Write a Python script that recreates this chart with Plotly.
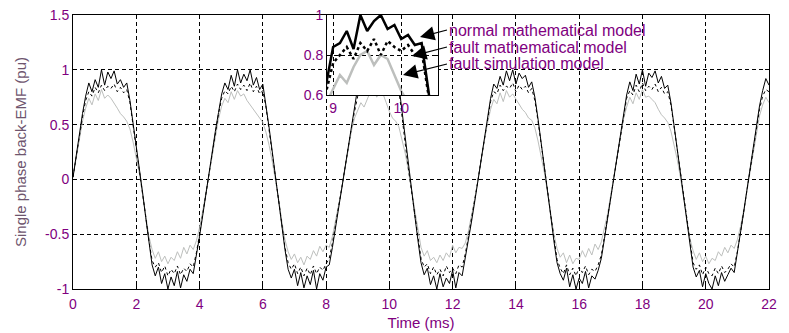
import plotly.graph_objects as go

# ---------------- data ----------------
time_step_ms = 0.1
n_samples = 221
time_ms = [round(i * time_step_ms, 1) for i in range(n_samples)]

normal_math = [
    0.02, 0.22, 0.41, 0.60, 0.76, 0.88, 0.80, 0.91, 0.84, 1.00, 0.86, 0.98, 0.92, 0.99, 0.87, 0.91, 0.84, 0.88,
    0.72, 0.52, 0.31, 0.10, -0.12, -0.35, -0.58, -0.78, -0.88, -0.80, -0.95, -0.86, -1.00, -0.89, -0.97, -0.84,
    -0.99, -0.87, -0.93, -0.82, -0.86, -0.70, -0.52, -0.33, -0.13,
    0.05, 0.25, 0.44, 0.61, 0.78, 0.88, 0.82, 0.95, 0.85, 1.00, 0.88, 0.96, 0.90, 1.00, 0.86, 0.93, 0.82, 0.87,
    0.68, 0.47, 0.25, 0.02, -0.20, -0.42, -0.64, -0.82, -0.90, -0.82, -0.97, -0.85, -0.99, -0.88, -0.96, -0.83,
    -1.00, -0.86, -0.92, -0.80, -0.78, -0.62, -0.44, -0.25,
    -0.08, 0.12, 0.32, 0.50, 0.66, 0.84, 0.86, 0.92, 0.83, 1.00, 0.92, 0.97, 1.00, 0.93, 0.95, 0.88, 0.90, 0.85,
    0.86, 0.62, 0.35, 0.12, -0.08, -0.32, -0.55, -0.76, -0.87, -0.81, -0.96, -0.88, -1.00, -0.86, -0.98, -0.90,
    -0.95, -0.83, -0.99, -0.85, -0.88, -0.72, -0.55, -0.38, -0.20,
    -0.01, 0.19, 0.38, 0.57, 0.74, 0.87, 0.83, 0.94, 0.86, 0.99, 0.90, 1.00, 0.87, 0.97, 0.92, 0.95, 0.84, 0.89,
    0.75, 0.55, 0.34, 0.12, -0.10, -0.33, -0.56, -0.76, -0.86, -0.92, -0.81, -0.98, -0.87, -1.00, -0.90, -0.95,
    -0.84, -0.99, -0.88, -0.91, -0.83, -0.72, -0.54, -0.35, -0.16,
    0.04, 0.24, 0.43, 0.62, 0.77, 0.89, 0.81, 0.96, 0.87, 1.00, 0.85, 0.97, 0.93, 0.99, 0.88, 0.94, 0.83, 0.86,
    0.70, 0.49, 0.28, 0.06, -0.16, -0.39, -0.61, -0.80, -0.89, -0.83, -0.98, -0.86, -0.95, -1.00, -0.88, -0.97,
    -0.85, -0.93, -0.87, -0.81, -0.85, -0.68, -0.49, -0.30, -0.10,
    0.10, 0.30, 0.49, 0.67, 0.81, 0.92, 0.86,
]

fault_math = [
    0.02, 0.21, 0.39, 0.57, 0.72, 0.80, 0.76, 0.84, 0.79, 0.86, 0.81, 0.85, 0.83, 0.87, 0.80, 0.84, 0.79, 0.82,
    0.70, 0.50, 0.30, 0.09, -0.12, -0.34, -0.56, -0.74, -0.80, -0.76, -0.85, -0.79, -0.88, -0.82, -0.86, -0.79,
    -0.87, -0.81, -0.84, -0.77, -0.80, -0.67, -0.50, -0.31, -0.12,
    0.05, 0.24, 0.43, 0.60, 0.74, 0.81, 0.78, 0.85, 0.80, 0.87, 0.82, 0.86, 0.81, 0.88, 0.80, 0.85, 0.78, 0.81,
    0.66, 0.46, 0.25, 0.02, -0.19, -0.41, -0.62, -0.76, -0.82, -0.77, -0.86, -0.80, -0.88, -0.81, -0.87, -0.79,
    -0.86, -0.80, -0.83, -0.77, -0.72, -0.58, -0.42, -0.24,
    -0.07, 0.11, 0.30, 0.47, 0.62, 0.76, 0.80, 0.84, 0.78, 0.86, 0.82, 0.88, 0.80, 0.87, 0.84, 0.82, 0.85, 0.80,
    0.82, 0.60, 0.33, 0.10, -0.10, -0.32, -0.54, -0.72, -0.80, -0.77, -0.86, -0.80, -0.87, -0.82, -0.88, -0.79,
    -0.85, -0.81, -0.86, -0.78, -0.80, -0.68, -0.52, -0.36, -0.19,
    -0.01, 0.18, 0.37, 0.55, 0.71, 0.80, 0.78, 0.86, 0.81, 0.85, 0.83, 0.88, 0.80, 0.86, 0.82, 0.85, 0.79, 0.83,
    0.72, 0.53, 0.33, 0.11, -0.10, -0.32, -0.54, -0.73, -0.81, -0.86, -0.78, -0.87, -0.81, -0.88, -0.80, -0.85,
    -0.79, -0.87, -0.82, -0.84, -0.78, -0.69, -0.52, -0.34, -0.15,
    0.04, 0.23, 0.42, 0.60, 0.74, 0.81, 0.77, 0.86, 0.80, 0.88, 0.81, 0.85, 0.82, 0.87, 0.80, 0.84, 0.78, 0.80,
    0.68, 0.48, 0.27, 0.05, -0.15, -0.38, -0.59, -0.76, -0.82, -0.78, -0.87, -0.80, -0.86, -0.88, -0.81, -0.86,
    -0.79, -0.85, -0.82, -0.77, -0.80, -0.66, -0.48, -0.29, -0.10,
    0.09, 0.29, 0.47, 0.64, 0.76, 0.82, 0.80,
]

fault_sim = [
    0.02, 0.20, 0.37, 0.53, 0.65, 0.74, 0.68, 0.78, 0.72, 0.82, 0.74, 0.77, 0.74, 0.70, 0.65, 0.60, 0.57, 0.53,
    0.46, 0.34, 0.20, 0.05, -0.14, -0.34, -0.52, -0.64, -0.72, -0.66, -0.75, -0.70, -0.77, -0.71, -0.74, -0.66,
    -0.72, -0.62, -0.68, -0.60, -0.64, -0.56, -0.44, -0.29, -0.12,
    0.05, 0.23, 0.40, 0.55, 0.67, 0.74, 0.70, 0.80, 0.73, 0.81, 0.76, 0.78, 0.72, 0.68, 0.63, 0.60, 0.55, 0.52,
    0.43, 0.31, 0.16, 0.00, -0.18, -0.38, -0.55, -0.66, -0.73, -0.68, -0.76, -0.71, -0.78, -0.70, -0.73, -0.65,
    -0.70, -0.61, -0.66, -0.60, -0.62, -0.52, -0.38, -0.22,
    -0.08, 0.10, 0.28, 0.44, 0.56, 0.63, 0.70, 0.66, 0.74, 0.80, 0.82, 0.75, 0.80, 0.78, 0.70, 0.62, 0.56, 0.53,
    0.48, 0.37, 0.24, 0.08, -0.10, -0.30, -0.48, -0.62, -0.70, -0.65, -0.74, -0.71, -0.76, -0.69, -0.74, -0.67,
    -0.71, -0.60, -0.67, -0.62, -0.63, -0.58, -0.47, -0.33, -0.18,
    -0.01, 0.18, 0.35, 0.51, 0.64, 0.73, 0.69, 0.79, 0.71, 0.81, 0.75, 0.78, 0.73, 0.69, 0.64, 0.61, 0.56, 0.54,
    0.47, 0.35, 0.21, 0.06, -0.12, -0.32, -0.50, -0.63, -0.71, -0.67, -0.76, -0.69, -0.77, -0.72, -0.73, -0.65,
    -0.71, -0.63, -0.69, -0.59, -0.64, -0.57, -0.45, -0.31, -0.14,
    0.04, 0.22, 0.39, 0.55, 0.66, 0.75, 0.69, 0.79, 0.73, 0.82, 0.75, 0.76, 0.73, 0.70, 0.64, 0.59, 0.56, 0.52,
    0.44, 0.32, 0.18, 0.02, -0.16, -0.36, -0.54, -0.65, -0.73, -0.67, -0.75, -0.70, -0.77, -0.72, -0.74, -0.66,
    -0.70, -0.62, -0.67, -0.60, -0.63, -0.55, -0.43, -0.28, -0.10,
    0.08, 0.26, 0.43, 0.58, 0.68, 0.75, 0.70,
]

x_tick_vals = [0, 2, 4, 6, 8, 10, 12, 14, 16, 18, 20, 22]
x_tick_text = ["0", "2", "4", "6", "8", "10", "12", "14", "16", "18", "20", "22"]
y_tick_vals = [-1, -0.5, 0, 0.5, 1, 1.5]
y_tick_text = ["-1", "-0.5", "0", "0.5", "1", "1.5"]
inset_x_tick_vals = [9, 10]
inset_x_tick_text = ["9", "10"]
inset_y_tick_vals = [0.6, 0.8, 1.0]
inset_y_tick_text = ["0.6", "0.8", "1"]

legend_labels = ["normal mathematical model", "fault mathematical model", "fault simulation model"]

# ---------------- figure ----------------
FONT = "Liberation Sans, Arial, sans-serif"
PURPLE = "#800080"
GRAY = "#bdbfbd"

fig = go.Figure()

series = [
    (fault_sim, dict(color=GRAY, dash="solid"), legend_labels[2]),
    (fault_math, dict(color="black", dash="dot"), legend_labels[1]),
    (normal_math, dict(color="black", dash="solid"), legend_labels[0]),
]

for ys, style, name in series:
    fig.add_trace(go.Scatter(x=time_ms, y=ys, mode="lines", name=name,
                             line=dict(width=1, **style), xaxis="x", yaxis="y",
                             showlegend=False, hoverinfo="skip"))
for ys, style, name in series:
    fig.add_trace(go.Scatter(x=time_ms, y=ys, mode="lines", name=name,
                             line=dict(width=2.5, **style), xaxis="x2", yaxis="y2",
                             showlegend=False, hoverinfo="skip"))

axis_common = dict(
    showline=True, linecolor="black", linewidth=1, mirror="ticks",
    ticks="inside", ticklen=4, tickcolor="black",
    showgrid=True, gridcolor="black", griddash="4px,3px", gridwidth=1,
    zeroline=False, automargin=False,
    tickfont=dict(family=FONT, size=14, color=PURPLE),
)

W, H = 789, 333
ml, mr, mt, mb = 73, 20, 15, 44
pw, ph = W - ml - mr, H - mt - mb


def px_x(p):
    return (p - ml) / pw


def px_y(p):
    return (H - mb - p) / ph


fig.update_layout(
    width=W, height=H,
    margin=dict(l=ml, r=mr, t=mt, b=mb),
    paper_bgcolor="white", plot_bgcolor="white",
    font=dict(family=FONT, size=14, color=PURPLE),
    xaxis=dict(range=[0, 22], tickvals=x_tick_vals, ticktext=x_tick_text,
               domain=[0, 1], anchor="y", ticklabelstandoff=2,
               title=dict(text="Time (ms)", font=dict(family=FONT, size=15, color=PURPLE), standoff=6),
               **axis_common),
    yaxis=dict(range=[-1, 1.5], tickvals=y_tick_vals, ticktext=y_tick_text,
               domain=[0, 1], anchor="x",
               title=dict(text="Single phase back-EMF (pu)", font=dict(family=FONT, size=15, color="#6e556e"),
                          standoff=14),
               **axis_common),
    xaxis2=dict(range=[8.91, 10.54], tickvals=inset_x_tick_vals, ticktext=inset_x_tick_text,
                domain=[px_x(327), px_x(438)], anchor="y2", **axis_common),
    yaxis2=dict(range=[0.6, 1.0], tickvals=inset_y_tick_vals, ticktext=inset_y_tick_text,
                domain=[px_y(95), px_y(15)], anchor="x2", **axis_common),
)

arrows = [
    (legend_labels[0], (420, 37), (447, 30)),
    (legend_labels[1], (412, 56), (447, 47)),
    (legend_labels[2], (403, 75), (447, 64)),
]
for text, tip, tail in arrows:
    fig.add_annotation(
        x=px_x(tip[0]), y=px_y(tip[1]), xref="paper", yref="paper",
        ax=tail[0] - tip[0], ay=tail[1] - tip[1], axref="pixel", ayref="pixel",
        text=text, showarrow=True, arrowhead=2, arrowsize=2.4, arrowwidth=1.2,
        arrowcolor="black", xanchor="left", yanchor="middle",
        font=dict(family=FONT, size=16, color=PURPLE),
    )

fig.write_html("out.html")
